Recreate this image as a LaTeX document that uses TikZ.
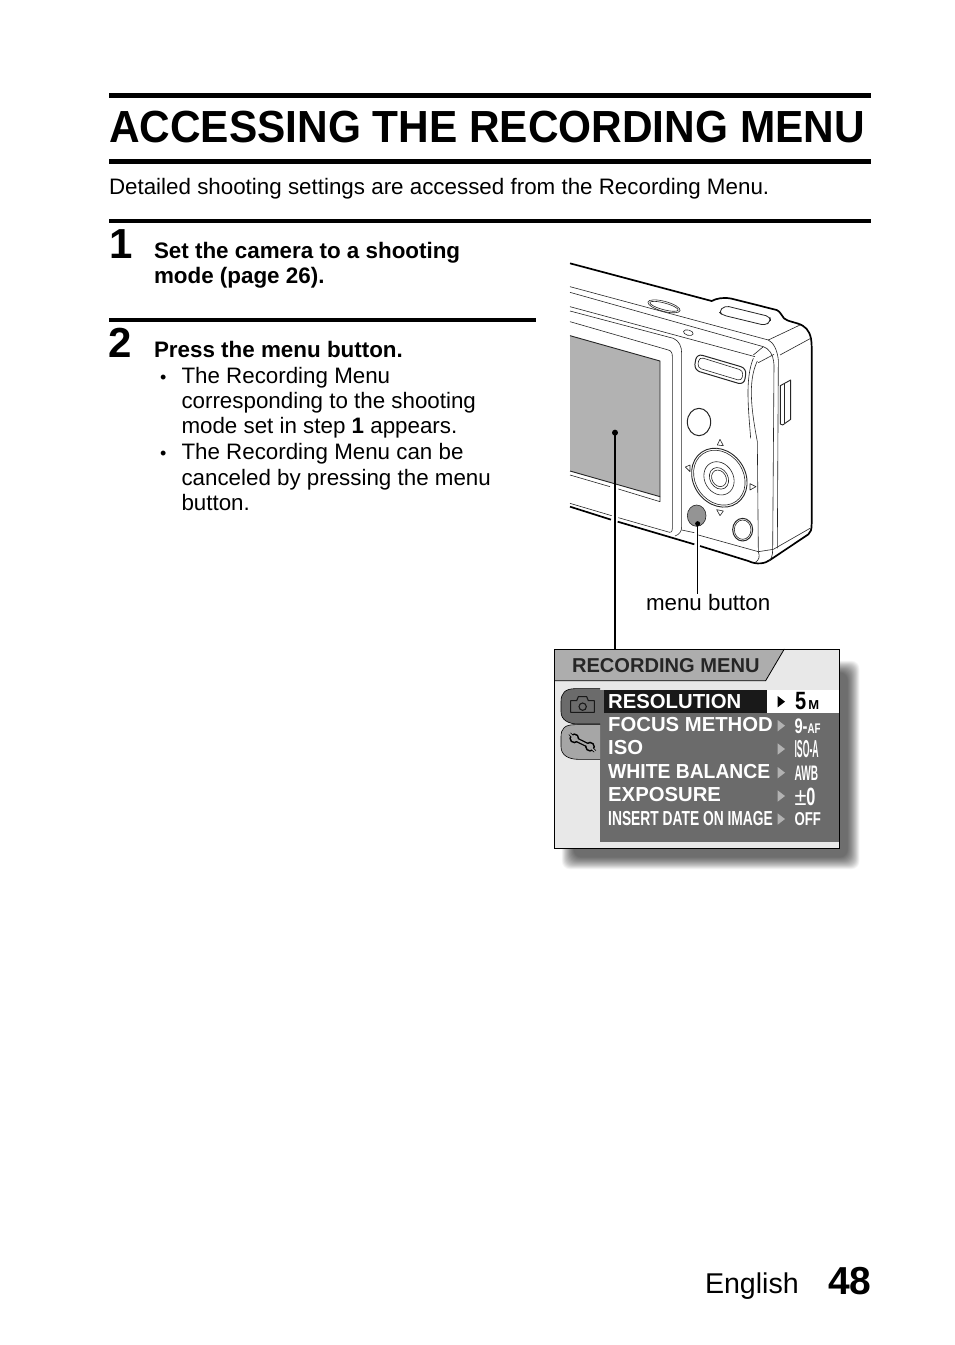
\documentclass[tikz,border=0pt]{standalone}
\usepackage{fontspec}
\usepackage{graphicx}
\setmainfont{Liberation Sans}
\newcommand{\fsz}[1]{\fontsize{#1pt}{#1pt}\selectfont}
\tikzset{
  txt/.style={anchor=base west,inner sep=0pt,outer sep=0pt,text=black},
  rule/.style={draw=none,fill=black},
  cam/.style={draw=black!85,line width=0.6pt,line join=round},
  camh/.style={draw=black,line width=1.7pt,line join=round},
  lead/.style={draw=black,line width=1.5pt},
  mn/.style={anchor=base west,inner sep=0pt,text=white,font=\bfseries\fsz{20.3}},
  mv/.style={anchor=base west,inner sep=0pt,font=\bfseries}
}
\begin{document}
\begin{tikzpicture}[x=1pt,y=-1pt]
\useasboundingbox (0,0) rectangle (954,1345);
\fill[white] (0,0) rectangle (954,1345);
% title
\fill[rule] (109,93) rectangle (871,98);
\fill[rule] (109,159) rectangle (871,164);
\node[txt] (title) at (109,142.5) {\scalebox{0.942}[1]{\bfseries\fsz{45}ACCESSING THE RECORDING MENU}};
\node[txt] (intro) at (109,194.5) {\fsz{22.37}Detailed shooting settings are accessed from the Recording Menu.};
\fill[rule] (109,219) rectangle (871,223);
\node[txt] (n1) at (109,258.5) {\bfseries\fsz{42}1};
\node[txt] (s1a) at (154,258.5) {\bfseries\fsz{22.4}Set the camera to a shooting};
\node[txt] (s1b) at (154,283.5) {\bfseries\fsz{22.4}mode (page 26).};
\fill[rule] (109,318) rectangle (536,322);
\node[txt] (n2) at (108,357) {\bfseries\fsz{42}2};
\node[txt] (s2) at (154,357) {\bfseries\fsz{22.4}Press the menu button.};
\node[txt] (b1) at (160,383) {\fsz{18}•};
\node[txt] at (181.5,383) {\fsz{22.35}The Recording Menu};
\node[txt] at (181.5,408) {\fsz{22.35}corresponding to the shooting};
\node[txt] at (181.5,433.5) {\fsz{22.35}mode set in step \textbf{1} appears.};
\node[txt] (b2) at (160,459.5) {\fsz{18}•};
\node[txt] at (181.5,459.5) {\fsz{22.35}The Recording Menu can be};
\node[txt] at (181.5,485) {\fsz{22.35}canceled by pressing the menu};
\node[txt] at (181.5,510.5) {\fsz{22.35}button.};
% footer
\node[txt] (eng) at (705,1293) {\fsz{28.6}English};
\node[txt] (pg) at (828,1294) {\bfseries\fsz{39}48};
% camera (coords: zoom crop at 3x)
\begin{scope}[xshift=560pt,yshift=-255pt,x=0.33333pt,y=-0.33333pt]
 % screen
 \fill[black!30] (30,242) -- (300,318) -- (300,725) -- (30,648) -- cycle;
 \draw[cam,line width=0.9pt] (30,242) -- (300,318) -- (300,725) -- (30,648);
 % body outline
 \draw[camh] (30,25) -- (455,138) .. controls (470,130) and (490,126) .. (515,131) -- (650,165) .. controls (662,170) and (664,182) .. (672,190) .. controls (682,200) and (712,202) .. (728,212) .. controls (745,222) and (755,240) .. (755,275) -- (755,805) .. controls (755,825) and (752,832) .. (745,838) -- (630,915) .. controls (615,926) and (590,930) .. (565,918) -- (420,873);
 \draw[camh] (403,868) -- (173,800);
 \draw[camh] (153,794) -- (30,755);
 % inner lines
 \draw[cam] (30,95) -- (625,255) .. controls (640,262) and (652,285) .. (655,315) -- (652,880);
 \draw[cam] (30,112) -- (610,275) .. controls (625,280) and (640,295) .. (642,330) -- (638,883) .. controls (638,900) and (635,912) .. (625,920);
 \draw[cam] (625,255) -- (720,210);
 \draw[cam] (610,275) -- (580,300);
 \draw[cam] (595,323) -- (642,298);
 \draw[cam] (660,300) -- (752,250);
 \draw[cam] (30,155) -- (585,305);
 \draw[cam] (580,310) .. controls (555,370) and (565,460) .. (572,550);
 \draw[cam] (592,318) .. controls (562,380) and (575,470) .. (592,560) -- (595,890) .. controls (600,905) and (598,915) .. (585,923);
 \draw[cam] (415,840) -- (595,890) -- (640,883) -- (750,820);
 \draw[cam] (365,825) -- (403,833);
 % LCD frame
 \draw[cam] (30,168) -- (340,250) .. controls (358,258) and (365,275) .. (365,295) -- (365,815) .. controls (365,830) and (358,838) .. (345,843);
 \draw[cam] (30,200) -- (325,285) .. controls (335,288) and (337,295) .. (337,305) -- (337,820) .. controls (337,832) and (332,834) .. (322,830) -- (175,788);
 \draw[cam] (155,782) -- (30,745);
 \draw[cam] (30,660) -- (150,695);
 \draw[cam] (175,702) -- (300,740) -- (300,725);
 % top buttons
 \draw[cam,rotate around={-15:(312,154)}] (312,154) ellipse[x radius=50,y radius=15];
 \draw[cam,rotate around={-15:(312,154)}] (312,154) ellipse[x radius=44,y radius=10];
 \draw[cam,line width=0.8pt,rounded corners=4pt] (476,170) -- (495,152) -- (630,185) -- (632,200) -- (615,211) -- (487,180) -- cycle;
 \draw[cam,rotate around={-15:(385,233)}] (385,233) ellipse[x radius=15,y radius=8];
 % flash
 \draw[cam,line width=1pt,rounded corners=6pt] (410,296) -- (560,340) -- (552,390) -- (402,345) -- cycle;
 \draw[cam,rounded corners=4pt] (418,306) -- (550,347) -- (545,378) -- (412,338) -- cycle;
 % buttons
 \draw[cam,line width=1pt] (417,501) ellipse[x radius=35,y radius=41];
 \draw[cam,line width=1pt] (548,824) ellipse[x radius=30,y radius=34];
 \draw[cam] (548,824) ellipse[x radius=25,y radius=29];
 \draw[cam,fill=black!42] (410,782) ellipse[x radius=28,y radius=32];
 % dial
 \draw[cam,line width=0.9pt,rotate around={35:(478,668)}] (478,668) ellipse[x radius=78,y radius=93];
 \draw[cam,rotate around={35:(478,668)}] (478,668) ellipse[x radius=72,y radius=87];
 \draw[cam,rotate around={30:(477,670)}] (477,670) ellipse[x radius=43,y radius=52];
 \draw[cam,rotate around={30:(477,670)}] (477,670) ellipse[x radius=27,y radius=34];
 \draw[cam,rotate around={30:(477,670)}] (477,670) ellipse[x radius=21,y radius=26];
 % arrows
 \draw[cam] (480,553) -- (472,570) -- (490,572) -- cycle;
 \draw[cam] (376,636) -- (390,630) -- (390,650) -- cycle;
 \draw[cam] (588,695) -- (570,686) -- (570,705) -- cycle;
 \draw[cam] (480,782) -- (470,764) -- (490,768) -- cycle;
 % side connector
 \draw[cam,line width=0.9pt] (661,392) -- (692,375) -- (692,493) -- (668,510) -- (661,507) -- cycle;
 \draw[cam] (672,388) -- (672,503);
 \node[circle,fill=black,inner sep=0pt,minimum size=6pt] (lcddot) at (165,533) {};
 \node[circle,fill=black,inner sep=0pt,minimum size=5pt] (menudot) at (413,806) {};
\end{scope}
\node[txt] (mb) at (646,610.5) {\fsz{22.35}menu button};
% menu box (coords: zoom crop at 3x)
\begin{scope}[xshift=545pt,yshift=-640pt,x=0.33333pt,y=-0.33333pt]
 \foreach \i in {0,...,36}{
   \fill[black,opacity=0.02,rounded corners=8pt] (50+\i,62+\i) rectangle (944-\i,688-\i);
 }
 \fill[black!9] (28,27) rectangle (883,625);
 \fill[black!32] (28,27) -- (718,27) -- (662,122) -- (28,122) -- cycle;
 \draw[black,line width=0.8pt] (28,122) -- (662,122) -- (718,27);
 \fill[black!58] (165,150) rectangle (883,605);
 \fill[black!90] (178,150) rectangle (665,218);
 \fill[white] (665,150) rectangle (883,218);
 % tabs
 \draw[black,line width=0.6pt,fill=black!58] (165,146) -- (90,146) .. controls (60,146) and (48,160) .. (48,185) -- (48,215) .. controls (48,240) and (70,252) .. (100,252) -- (165,252);
 \draw[black,line width=0.6pt,fill=black!35] (165,254) -- (90,254) .. controls (60,254) and (48,265) .. (48,290) -- (48,320) .. controls (48,345) and (70,358) .. (100,358) -- (165,358);
 \fill[black!58] (165,150) rectangle (178,218);
 % camera icon
 \draw[black!90,line width=1.1pt,line join=round] (77,182) -- (95,182) -- (100,170) -- (125,170) -- (130,182) -- (148,182) -- (148,217) -- (77,217) -- cycle;
 \draw[black!90,line width=1.1pt] (113,200) circle[radius=11];
 % wrench icon: outline, then inner
 \draw[black,line width=4.6pt,line cap=round] (90,297) -- (133,318);
 \fill[black] (88,295) circle[radius=15];
 \fill[black] (135,320) circle[radius=15];
 \draw[black,line width=3pt] (88,295) -- (74,281);
 \draw[black,line width=3pt] (135,320) -- (150,334);
 \draw[black!35,line width=2pt] (90,297) -- (133,318);
 \fill[black!35] (88,295) circle[radius=10];
 \fill[black!35] (135,320) circle[radius=10];
 \draw[black!35,line width=1.5pt] (88,295) -- (70,277);
 \draw[black!35,line width=1.5pt] (135,320) -- (153,337);
 % frame
 \draw[black,line width=0.9pt] (28,27) rectangle (883,625);
 % header text
 \node[txt,text=black!85,font=\bfseries\fsz{20.1}] (rm) at (81,97) {RECORDING MENU};
 % rows
 \node[mn] (r1) at (189,204) {RESOLUTION};
 \node[mn] (r2) at (189,275) {FOCUS METHOD};
 \node[mn] (r3) at (189,343) {ISO};
 \node[mn] (r4) at (189,415) {\scalebox{0.952}[1]{WHITE BALANCE}};
 \node[mn] (r5) at (189,485) {EXPOSURE};
 \node[mn] (r6) at (189,555) {\scalebox{0.68}[1]{INSERT DATE ON IMAGE}};
 % triangles
 \fill[black] (698,168) -- (720,185) -- (698,202) -- cycle;
 \foreach \y in {257,327,398,468,537}{
   \fill[black!30] (698,\y-17) -- (720,\y) -- (698,\y+17) -- cycle;
 }
 % values
 \node[mv,text=black] (v1) at (750,207) {\scalebox{0.8}[1]{\fsz{25}5}\fsz{13}\,M};
 \node[mv,text=white] (v2) at (748,280) {\scalebox{0.7}[1]{\fsz{21}9-\fsz{14}AF}};
 \node[mv,text=white] (v3) at (748,353) {\scalebox{0.355}[1]{\fsz{24.5}ISO-A}};
 \node[mv,text=white] (v4) at (748,420) {\scalebox{0.48}[1]{\fsz{21}AWB}};
 \node[mv,text=white] (v5) at (748,495) {\scalebox{0.87}[1]{\fsz{25}\mdseries±}\scalebox{0.65}[1]{\fsz{25}0}};
 \node[mv,text=white] (v6) at (748,555) {\scalebox{0.71}[1]{\fsz{18.6}OFF}};
 \coordinate (mtop) at (210,27);
\end{scope}
% leaders
\draw[lead] (lcddot.center) -- (lcddot.center |- mtop);
\draw[lead] (menudot.center) -- (menudot.center |- mb.north);
\end{tikzpicture}
\end{document}
